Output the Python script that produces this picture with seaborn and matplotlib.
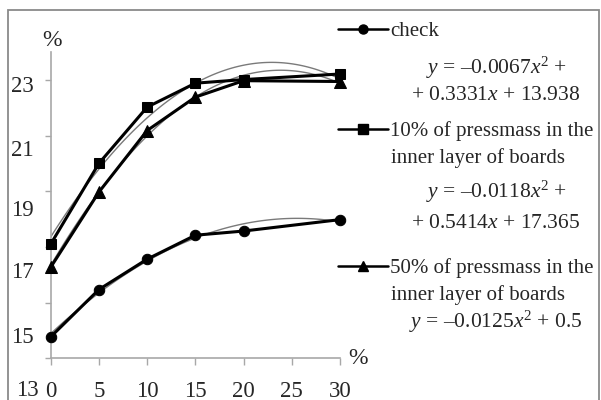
import matplotlib
matplotlib.use("Agg")
import matplotlib.pyplot as plt
import seaborn as sns
from matplotlib.lines import Line2D
from matplotlib.patches import Rectangle
from matplotlib.transforms import ScaledTranslation

# ---- data ----
x_values = [0, 5, 10, 15, 20, 30]
check = [13.77, 15.47, 16.56, 17.42, 17.57, 17.98]
press10 = [17.10, 20.00, 22.02, 22.88, 23.01, 23.21]
press50 = [16.27, 18.97, 21.18, 22.38, 22.97, 22.94]

series_labels = ["check", "10% of pressmass in the", "50% of pressmass in the"]
series_second_lines = ["", "inner layer of boards", "inner layer of boards"]
equations = [
    ["$y$ = –0.0067$x^2$ +", "+ 0.3331$x$ + 13.938"],
    ["$y$ = –0.0118$x^2$ +", "+ 0.5414$x$ + 17.365"],
    ["$y$ = –0.0125$x^2$ + 0.5"],
]
y_ticks = [13, 15, 17, 19, 21, 23]
x_ticks = [0, 5, 10, 15, 20, 25, 30]
axis_unit = "%"

# ---- style ----
sns.set_style("white")
plt.rcParams["font.family"] = ["Liberation Serif", "DejaVu Serif"]
plt.rcParams["mathtext.fontset"] = "custom"
plt.rcParams["mathtext.rm"] = "Liberation Serif"
plt.rcParams["mathtext.it"] = "Liberation Serif:italic"
plt.rcParams["mathtext.bf"] = "Liberation Serif:bold"

W, H = 601, 400
fig = plt.figure(figsize=(W / 100, H / 100), dpi=100)
ax = fig.add_axes([50.7 / W, (H - 358.3) / H, (340 - 50.7) / W, (358.3 - 52) / H])

series = [check, press10, press50]
markers = ["o", "s", "^"]
msizes = [7.5, 7.5, 8]

# trend lines (2nd order polynomial fits)
for ys in series:
    sns.regplot(x=x_values, y=ys, order=2, ci=None, scatter=False, ax=ax,
                line_kws=dict(color="#7a7a7a", lw=1.0, zorder=2))

# data lines
for ys, mk, ms in zip(series, markers, msizes):
    sns.lineplot(x=x_values, y=ys, ax=ax, color="black", lw=2.2, marker=mk,
                 markersize=ms, markeredgecolor="black", markerfacecolor="black",
                 clip_on=False, zorder=3)

ax.set_xlim(0, 30)
ax.set_ylim(13, 24)
ax.set_xticks(x_ticks)
ax.set_xticklabels([str(v) for v in x_ticks])
ax.set_yticks(y_ticks)
ax.set_yticklabels([str(v) for v in y_ticks])
ax.set_xlabel("")
ax.set_ylabel("")

for side in ["top", "right"]:
    ax.spines[side].set_visible(False)
for side in ["left", "bottom"]:
    ax.spines[side].set_color("#a8a8a8")
    ax.spines[side].set_linewidth(1.2)

ax.tick_params(axis="y", direction="out", length=4, width=1, color="#a8a8a8",
               pad=8.5, labelsize=16.5, left=True)
ax.tick_params(axis="x", direction="out", length=5, width=1, color="#a8a8a8",
               pad=11, labelsize=16.5, bottom=True)

# shift y tick labels like in the reference
offsets = {23: (0, 3.7), 21: (0, 12.7), 19: (0, 16.3), 17: (0, 23.5),
           15: (0, 32.3), 13: (5, 30)}
for tick, v in zip(ax.yaxis.get_major_ticks(), y_ticks):
    dx, dy = offsets[v]
    lab = tick.label1
    lab.set_transform(lab.get_transform() +
                      ScaledTranslation(dx / 100, -dy / 100, fig.dpi_scale_trans))

# axis unit labels
fig.text(52 / W, 1 - 40 / H, axis_unit, ha="center", va="center", fontsize=17)
fig.text(348 / W, 1 - 358 / H, axis_unit, ha="left", va="center", fontsize=17)

# legend entries
legend_y = [31, 131, 268]
for lab, mk, ly in zip(series_labels, markers, legend_y):
    h = Line2D([], [], color="black", lw=1.8, marker=mk, markersize=6.5,
               markerfacecolor="black", markeredgecolor="black")
    fig.legend(handles=[h], labels=[lab], loc="center left",
               bbox_to_anchor=(338 / W, 1 - ly / H), bbox_transform=fig.transFigure,
               frameon=False, borderpad=0, borderaxespad=0, handlelength=2.4,
               handletextpad=0.12, fontsize=15)

second_y = [None, 158, 295]
for txt, sy in zip(series_second_lines, second_y):
    if txt:
        fig.text(391 / W, 1 - sy / H, txt, ha="left", va="center", fontsize=15)

eq_y = [[68, 96], [192, 223], [322]]
for lines, ys in zip(equations, eq_y):
    for txt, ey in zip(lines, ys):
        fig.text(496 / W, 1 - ey / H, txt, ha="center", va="center", fontsize=15.5)

# outer frame
fig.add_artist(Rectangle((8 / W, -0.05), (599 - 8) / W, (1 - 10 / H) + 0.05,
                         transform=fig.transFigure, fill=False,
                         edgecolor="#8a8a8a", lw=1.3, clip_on=False))

fig.savefig("out.png", dpi=100)
